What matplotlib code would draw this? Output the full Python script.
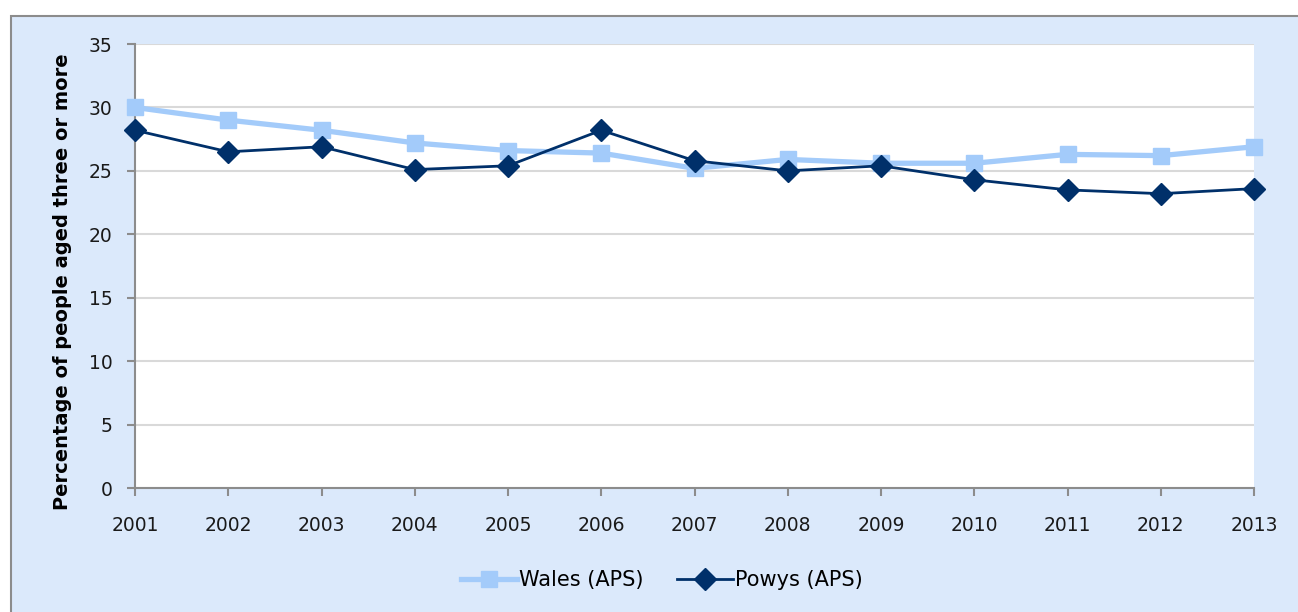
import matplotlib.pyplot as plt
from matplotlib.patches import Rectangle

years = ["2001", "2002", "2003", "2004", "2005", "2006", "2007",
         "2008", "2009", "2010", "2011", "2012", "2013"]
wales = [30.0, 29.0, 28.2, 27.2, 26.6, 26.4, 25.2, 25.9, 25.6, 25.6, 26.3, 26.2, 26.9]
powys = [28.2, 26.5, 26.9, 25.1, 25.4, 28.2, 25.8, 25.0, 25.4, 24.3, 23.5, 23.2, 23.6]

fig = plt.figure(figsize=(12.98, 6.12), dpi=100)

# chart area background with grey border
fig.patches.append(Rectangle((11 / 1298, -0.05), 1.1, 0.05 + (612 - 16) / 612,
                             transform=fig.transFigure, facecolor="#DBE9FB",
                             edgecolor="#8C8C8C", linewidth=1.5, zorder=0))

ax = fig.add_axes([135 / 1298, (612 - 488) / 612, (1254 - 135) / 1298, (488 - 44) / 612])
ax.set_zorder(2)
ax.set_facecolor("white")

x = list(range(len(years)))
ax.plot(x, wales, color="#A3CBFA", linewidth=3.8, marker="s", markersize=11.5,
        label="Wales (APS)", clip_on=False, zorder=3)
ax.plot(x, powys, color="#00306A", linewidth=2.0, marker="D", markersize=11,
        label="Powys (APS)", clip_on=False, zorder=4)

ax.set_xlim(0, len(years) - 1)
ax.set_ylim(0, 35)
ax.set_yticks(range(0, 36, 5))
ax.set_xticks(x)
ax.set_xticklabels(years)
ax.yaxis.grid(True, color="#D9D9D9", linewidth=1.5)
ax.set_axisbelow(True)

for side in ("top", "right"):
    ax.spines[side].set_visible(False)
for side in ("left", "bottom"):
    ax.spines[side].set_color("#8C8C8C")
    ax.spines[side].set_linewidth(1.5)

ax.tick_params(axis="both", colors="#8C8C8C", labelcolor="#1A1A1A",
               labelsize=13.5, length=6, width=1.5)
ax.tick_params(axis="x", pad=14)
ax.tick_params(axis="y", pad=10)

ax.set_ylabel("Percentage of people aged three or more", fontsize=14,
              fontweight="bold")
ax.yaxis.set_label_coords(-0.056, 0.464)

leg = fig.legend(loc="center", bbox_to_anchor=(662 / 1298, 1 - 580 / 612), ncol=2,
                 frameon=False, fontsize=15, handlelength=2.7, columnspacing=1.6,
                 handletextpad=0.1)
leg.set_zorder(3)

fig.savefig("out.png", dpi=100)
